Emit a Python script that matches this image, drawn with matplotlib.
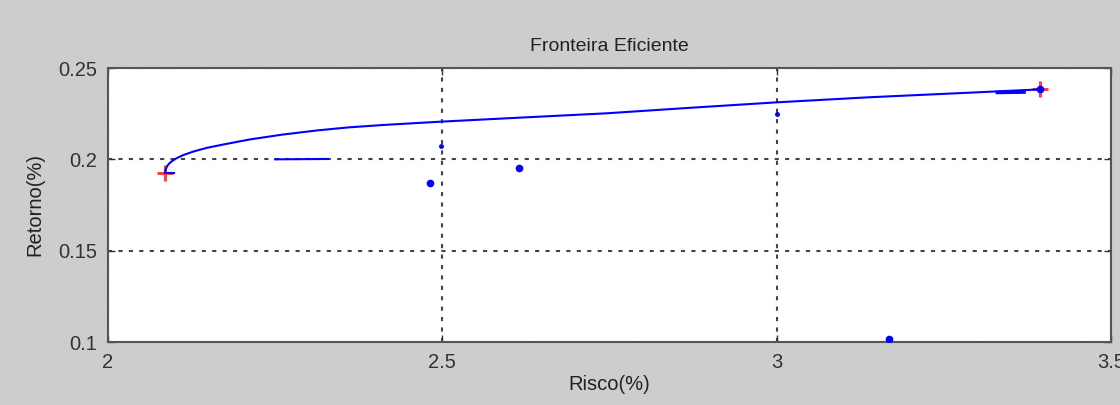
import matplotlib
matplotlib.use("Agg")
import matplotlib.pyplot as plt

# Efficient frontier curve (risk %, return %)
frontier_risk = [2.0852, 2.0858, 2.0868, 2.0885, 2.0915, 2.0960, 2.1030, 2.1130,
                 2.1280, 2.1480, 2.1750, 2.2124, 2.2600, 2.3121, 2.3600, 2.4113,
                 2.4965, 2.6200, 2.7458, 2.8700, 3.0000, 3.1396, 3.2891, 3.3938]
frontier_ret = [0.1927, 0.1938, 0.1950, 0.1963, 0.1977, 0.1991, 0.2007, 0.2024,
                0.2043, 0.2063, 0.2083, 0.2109, 0.2135, 0.2158, 0.2175, 0.2188,
                0.2206, 0.2229, 0.2252, 0.2282, 0.2312, 0.2340, 0.2365, 0.2383]

# short stray segments
seg1_risk = [2.250, 2.329]
seg1_ret = [0.2000, 0.2002]
seg2_risk = [3.33, 3.37]
seg2_ret = [0.2366, 0.2368]
seg3_risk = [2.0852, 2.0990]
seg3_ret = [0.1927, 0.1927]

# individual assets
asset_risk = [2.4815, 2.6147, 3.168, 3.3938]
asset_ret = [0.1870, 0.1953, 0.1016, 0.2383]
small_risk = [2.498, 3.0]
small_ret = [0.2073, 0.2247]

# min-variance and max-return portfolios
ext_risk = [2.0852, 3.3938]
ext_ret = [0.1927, 0.2383]

title = "Fronteira Eficiente"
xlabel = "Risco(%)"
ylabel = "Retorno(%)"
xticks = [2, 2.5, 3, 3.5]
xticklabels = ["2", "2.5", "3", "3.5"]
yticks = [0.1, 0.15, 0.2, 0.25]
yticklabels = ["0.1", "0.15", "0.2", "0.25"]

plt.rcParams['font.family'] = ['Liberation Sans', 'DejaVu Sans']

fig = plt.figure(figsize=(11.2, 4.05), dpi=100, facecolor='#cdcdcd')
ax = fig.add_axes([108/1120, 63/405, 1003/1120, 274/405])
ax.set_facecolor('white')

ax.plot(ext_risk, ext_ret, linestyle='none', marker='+', color='#ff4040',
        markersize=12, mew=2.2, zorder=3)
ax.plot(frontier_risk, frontier_ret, color='#0000ff', lw=1.5, zorder=4,
        solid_joinstyle='round')
ax.plot(seg1_risk, seg1_ret, color='#0000ff', lw=1.5, zorder=4)
ax.plot(seg2_risk, seg2_ret, color='#0000ff', lw=2.5, zorder=4)
ax.plot(seg3_risk, seg3_ret, color='#0000ff', lw=1.5, zorder=4)
ax.plot(asset_risk, asset_ret, linestyle='none', marker='o', color='#0000ff',
        markersize=4.5, zorder=5)
ax.plot(small_risk, small_ret, linestyle='none', marker='o', color='#0000ff',
        markersize=2.5, zorder=5)

ax.set_xlim(2, 3.5)
ax.set_ylim(0.1, 0.25)
ax.set_xticks(xticks)
ax.set_xticklabels(xticklabels)
ax.set_yticks(yticks)
ax.set_yticklabels(yticklabels)

ax.grid(True, color='#444444', linestyle=(0, (2, 3)), linewidth=1.5)
ax.tick_params(direction='in', length=5, width=1, colors='#333333',
               top=True, right=True, labelsize=14.5, pad=8)
for s in ax.spines.values():
    s.set_color('#555555')
    s.set_linewidth(1.5)

ax.set_title(title, fontsize=14, color='#222222', pad=12)
ax.set_xlabel(xlabel, fontsize=14.5, color='#222222', labelpad=2)
ax.set_ylabel(ylabel, fontsize=14.5, color='#222222', labelpad=10)

fig.savefig("out.png", dpi=100, facecolor=fig.get_facecolor())
